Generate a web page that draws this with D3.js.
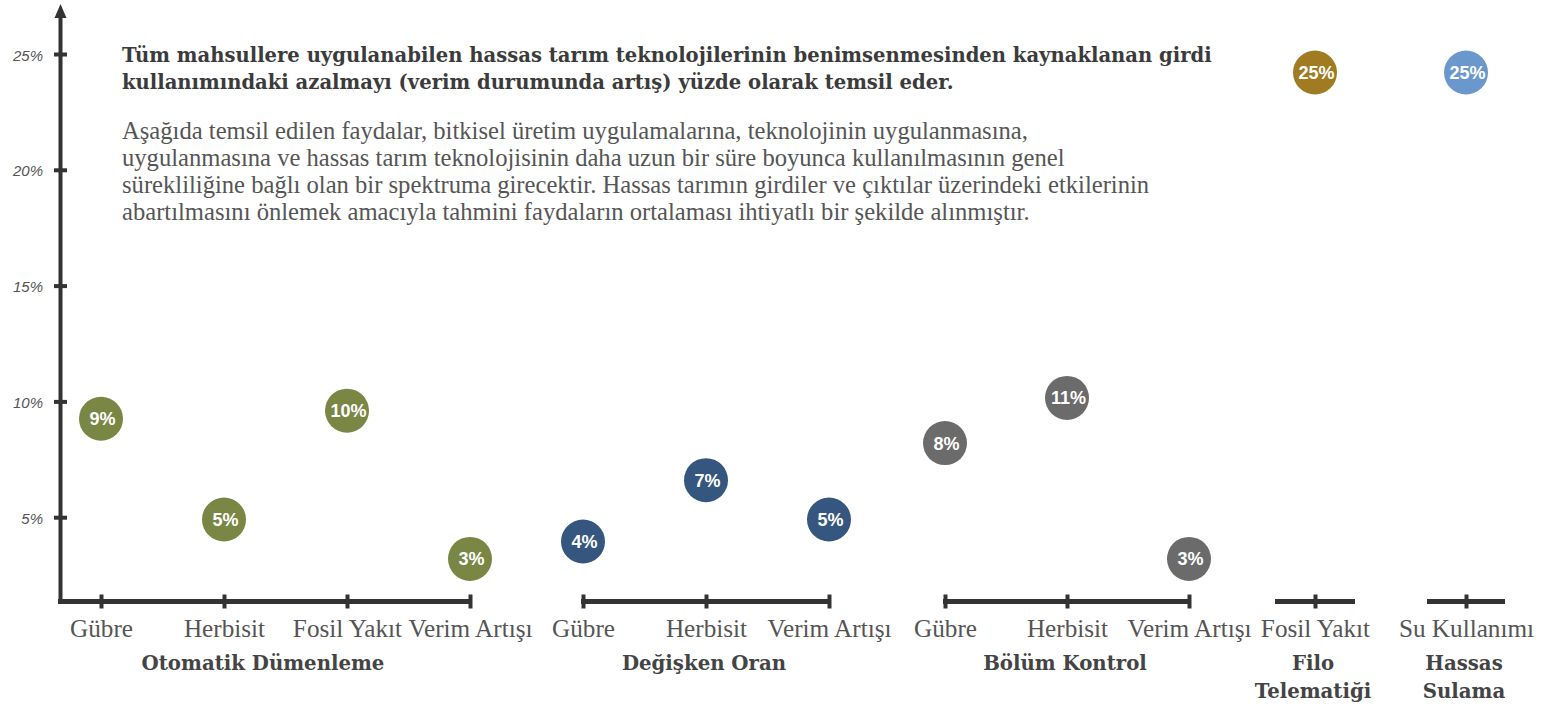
<!DOCTYPE html>
<html>
<head>
<meta charset="utf-8">
<script src="https://cdn.jsdelivr.net/npm/d3@7"></script>
<style>
  body { margin: 0; background: #fff; }
  svg { display: block; }
</style>
</head>
<body>
<svg id="chart" width="1546" height="705"></svg>
<script>
// groups and their categories
const groups = ["Otomatik Dümenleme", "Değişken Oran", "Bölüm Kontrol", "Filo Telematiği", "Hassas Sulama"];
const groupTitleLines = [["Otomatik Dümenleme"], ["Değişken Oran"], ["Bölüm Kontrol"], ["Filo", "Telematiği"], ["Hassas", "Sulama"]];
const categories = [
  ["Gübre", "Herbisit", "Fosil Yakıt", "Verim Artışı"],
  ["Gübre", "Herbisit", "Verim Artışı"],
  ["Gübre", "Herbisit", "Verim Artışı"],
  ["Fosil Yakıt"],
  ["Su Kullanımı"]
];
// plotted positions (%) and printed labels
const values = [
  [9.25, 4.9, 9.6, 3.2],
  [3.95, 6.6, 4.9],
  [8.2, 10.15, 3.2],
  [24.2],
  [24.2]
];
const valueLabels = [
  ["9%", "5%", "10%", "3%"],
  ["4%", "7%", "5%"],
  ["8%", "11%", "3%"],
  ["25%"],
  ["25%"]
];
const yTicks = [5, 10, 15, 20, 25];
const colors = ["#7a8644", "#34567f", "#6b6b6b", "#a07b22", "#6b98cc"];

const headingLines = [
  "Tüm mahsullere uygulanabilen hassas tarım teknolojilerinin benimsenmesinden kaynaklanan girdi",
  "kullanımındaki azalmayı (verim durumunda artış) yüzde olarak temsil eder."
];
const bodyLines = [
  "Aşağıda temsil edilen faydalar, bitkisel üretim uygulamalarına, teknolojinin uygulanmasına,",
  "uygulanmasına ve hassas tarım teknolojisinin daha uzun bir süre boyunca kullanılmasının genel",
  "sürekliliğine bağlı olan bir spektruma girecektir. Hassas tarımın girdiler ve çıktılar üzerindeki etkilerinin",
  "abartılmasını önlemek amacıyla tahmini faydaların ortalaması ihtiyatlı bir şekilde alınmıştır."
];

// layout
const axisX = 60.5, baseY = 601.5;
const pointRanges = [[101, 470], [583, 829], [945, 1189], [1315, 1315], [1466, 1466]];
const lineSpans = [[58, 472], [581, 831], [943, 1191], [1275, 1355], [1427, 1505]];
const serif = "'Liberation Serif', serif";
const serifBold = "'DejaVu Serif', serif";
const sans = "'Liberation Sans', Arial, sans-serif";
const dark = "#333";

const svg = d3.select("#chart");

const y = d3.scaleLinear().domain([0, 25]).range([633, 54]);

// fit a font size so a given text has the target width
function fitSize(text, family, weight, base, target) {
  const t = svg.append("text").attr("font-family", family).attr("font-weight", weight)
    .attr("font-size", base).text(text);
  const w = t.node().getComputedTextLength();
  t.remove();
  return base * target / w;
}

// y axis line with arrow
svg.append("line")
  .attr("x1", axisX).attr("x2", axisX)
  .attr("y1", 14).attr("y2", baseY + 2.5)
  .attr("stroke", dark).attr("stroke-width", 4);
svg.append("path")
  .attr("d", `M${axisX},4 L${axisX - 6},18 L${axisX + 6},18 Z`)
  .attr("fill", dark);

const yAxis = svg.append("g")
  .attr("transform", `translate(${axisX + 6.5},0)`)
  .call(d3.axisLeft(y).tickValues(yTicks).tickSize(13).tickPadding(11).tickFormat(d => d + "%"));
yAxis.select(".domain").remove();
yAxis.selectAll(".tick line").attr("stroke", dark).attr("stroke-width", 4);
yAxis.selectAll(".tick text")
  .attr("font-family", sans)
  .attr("font-style", "italic")
  .attr("font-size", 15)
  .attr("fill", "#555")
  .attr("dy", "0.4em");

// heading + description
const headSize = fitSize(headingLines[0], serifBold, "bold", 20, 1090);
svg.append("g").selectAll("text")
  .data(headingLines).join("text")
  .attr("x", 122).attr("y", (d, i) => 62 + i * 27)
  .attr("font-family", serifBold).attr("font-weight", "bold")
  .attr("font-size", headSize).attr("fill", "#3b3b3b")
  .text(d => d);

const bodySize = fitSize(bodyLines[0], serif, "normal", 20, 906);
svg.append("g").selectAll("text")
  .data(bodyLines).join("text")
  .attr("x", 122).attr("y", (d, i) => 139 + i * 27)
  .attr("font-family", serif)
  .attr("font-size", bodySize).attr("fill", "#555")
  .text(d => d);

const catSize = fitSize("Verim Artışı", serif, "normal", 20, 124);
const titleSize = fitSize("Otomatik Dümenleme", serifBold, "bold", 18, 243);

groups.forEach((g, gi) => {
  const x = d3.scalePoint().domain(categories[gi]).range(pointRanges[gi]);
  const span = lineSpans[gi];

  // axis segment
  svg.append("line")
    .attr("x1", span[0]).attr("x2", span[1])
    .attr("y1", baseY).attr("y2", baseY)
    .attr("stroke", dark).attr("stroke-width", 5);

  const ax = svg.append("g")
    .attr("transform", `translate(0,${baseY - 7})`)
    .call(d3.axisBottom(x).tickSize(14).tickPadding(11));
  ax.select(".domain").remove();
  ax.selectAll(".tick line").attr("stroke", dark).attr("stroke-width", 4);
  ax.selectAll(".tick text")
    .attr("font-family", serif)
    .attr("font-size", catSize)
    .attr("fill", "#555");

  // group title
  const cx = (span[0] + span[1]) / 2 - 2;
  svg.append("g").selectAll("text")
    .data(groupTitleLines[gi]).join("text")
    .attr("x", cx).attr("y", (d, i) => 670 + i * 28)
    .attr("text-anchor", "middle")
    .attr("font-family", serifBold).attr("font-weight", "bold")
    .attr("font-size", titleSize).attr("fill", "#444")
    .text(d => d);

  // bubbles
  const pts = categories[gi].map((c, i) => ({ c, v: values[gi][i], label: valueLabels[gi][i] }));
  const b = svg.append("g").selectAll("g")
    .data(pts).join("g")
    .attr("transform", d => `translate(${x(d.c)},${y(d.v)})`);
  b.append("circle")
    .attr("r", 22)
    .attr("fill", colors[gi]);
  b.append("text")
    .attr("x", 1.5).attr("y", 6.5)
    .attr("text-anchor", "middle")
    .attr("font-family", sans)
    .attr("font-weight", "bold")
    .attr("font-size", 18)
    .attr("fill", "#fff")
    .text(d => d.label);
});
</script>
</body>
</html>
